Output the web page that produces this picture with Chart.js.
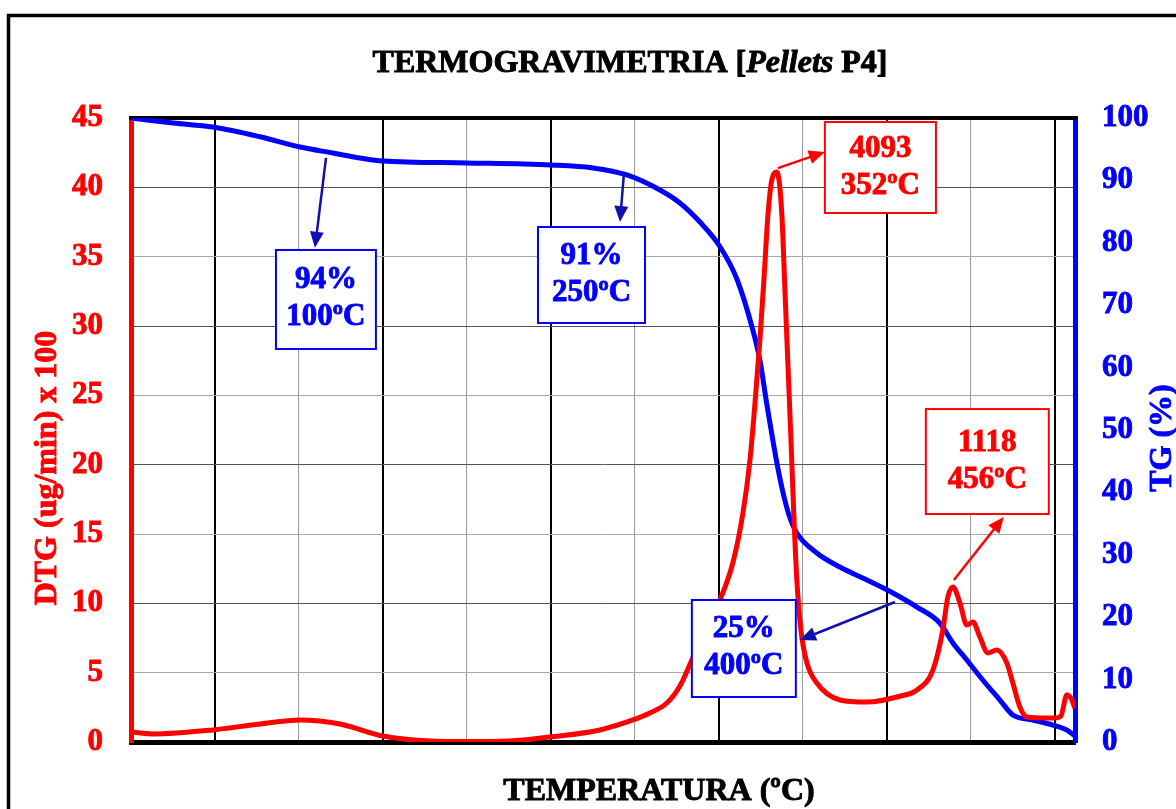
<!DOCTYPE html>
<html>
<head>
<meta charset="utf-8">
<script src="https://cdn.jsdelivr.net/npm/chart.js@4.4.1/dist/chart.umd.min.js"></script>
<style>
  html, body { margin: 0; padding: 0; background: #fff; }
  #wrap { width: 1176px; height: 809px; }
</style>
</head>
<body>
<div id="wrap"><canvas id="chart"></canvas></div>
<script>
// DTG (ug/min x 100), left axis
const dtgX = [0, 13.1, 48.8, 76.8, 100.6, 124.4, 150, 178, 200, 225.6, 249.4, 279.2, 298.8, 308.9, 319, 326.8, 333.9,
  350.6, 358.3, 364.3, 368.5, 371.4, 374.4, 376.8, 379.2, 381.5, 384.5, 387.5, 389.3, 391.1, 392.9, 394.6,
  396.4, 398.8, 402.4, 408.3, 422, 438.1, 457.7, 467.9, 477.4, 483.3, 486.3, 489.3, 493.5, 497.6, 501.2, 505.4,
  510.1, 515.5, 521.4, 525, 529.2, 533.3, 545.2, 550, 553.6, 557.1, 559.5, 561.9]
const dtgY = [0.72, 0.58, 0.87, 1.30, 1.59, 1.30, 0.43, 0.07, 0.03, 0.07, 0.36, 0.87, 1.59, 2.09, 2.81, 4.04, 5.91,
  10.24, 12.91, 16.51, 20.34, 24.30, 28.99, 33.32, 38.00, 40.53, 41.10, 38.0, 32.6, 27.2, 21.8, 16.4,
  11.7, 8.1, 5.70, 4.25, 3.03, 2.88, 3.30, 3.75, 5.19, 8.08, 10.46, 11.18, 10.02, 8.44, 8.65, 7.57,
  6.42, 6.63, 5.70, 4.25, 2.52, 1.80, 1.73, 1.73, 1.87, 3.39, 3.17, 2.45]

// TG (%), right axis
const tgX = [0, 25, 48.8, 76.8, 100.6, 120.2, 136.3, 150, 200, 250, 275, 295.2, 314.9, 326.8, 338.7,
  350.0, 360.7, 370.2, 374.4, 378.6, 382.1, 385.1, 388.1, 391.7, 396.4, 408.3, 422, 438.1, 453.6, 467.9,
  481.5, 489.3, 497.6, 507.1, 517.3, 525, 536.9, 548.8, 557.1, 561.9]
const tgY = [100, 99.2, 98.56, 97.0, 95.35, 94.39, 93.6, 93.11, 92.8, 92.47, 92.0, 90.87, 88.46, 86.38, 83.33,
  79.65, 74.20, 66.03, 61.22, 54.01, 48.40, 43.91, 40.06, 36.38, 33.49, 30.29, 28.04, 25.96, 23.88, 21.63,
  19.07, 15.87, 13.14, 9.94, 6.73, 4.33, 3.53, 2.72, 1.92, 1.0]

const xGridTicks = [50, 100, 150, 200, 250, 300, 350, 400, 450, 500, 550]
const xMax = 562

// callouts: text, box corners and arrow (tail -> tip) in data units
const callouts = [
  { lines: ['94%', '100ºC'], axis: 'y2', color: '#0000ff', arrow: '#1010b0',
    box: [86.3, 145.8, 78.85, 62.98], tail: [116.1, 93.6], tip: [109.5, 79.2] },
  { lines: ['91%', '250ºC'], axis: 'y2', color: '#0000ff', arrow: '#1010b0',
    box: [242.3, 306.0, 82.53, 67.15], tail: [293.5, 91.19], tip: [291.1, 83.33] },
  { lines: ['4093', '352ºC'], axis: 'y', color: '#ff0000', arrow: '#ff0000',
    box: [413.1, 479.2, 44.71, 38.15], tail: [385.1, 41.39], tip: [413.1, 42.55] },
  { lines: ['1118', '456ºC'], axis: 'y', color: '#ff0000', arrow: '#ff0000',
    box: [473.2, 546.4, 24.01, 16.44], tail: [489.9, 11.68], tip: [519.6, 16.23] },
  { lines: ['25%', '400ºC'], axis: 'y2', color: '#0000ff', arrow: '#1010b0',
    box: [333.9, 395.8, 22.76, 7.21], tail: [454.8, 22.44], tip: [398.2, 16.35] }
]

const FONT = "'Liberation Serif', 'Times New Roman', serif"

function toPoints(xs, ys) {
  return xs.map((x, i) => ({ x: x, y: ys[i] }))
}

// heavy text: fill plus a thin stroke in the same colour
function boldText(ctx, txt, x, y) {
  ctx.lineWidth = 0.9
  ctx.strokeStyle = ctx.fillStyle
  ctx.fillText(txt, x, y)
  ctx.strokeText(txt, x, y)
}

function drawArrow(ctx, x1, y1, x2, y2, color) {
  let ang = Math.atan2(y2 - y1, x2 - x1)
  let len = 16, half = 7
  ctx.save()
  ctx.strokeStyle = color
  ctx.fillStyle = color
  ctx.lineWidth = 2.5
  ctx.beginPath()
  ctx.moveTo(x1, y1)
  ctx.lineTo(x2 - Math.cos(ang) * len * 0.8, y2 - Math.sin(ang) * len * 0.8)
  ctx.stroke()
  ctx.beginPath()
  ctx.moveTo(x2, y2)
  ctx.lineTo(x2 - Math.cos(ang) * len - Math.sin(ang) * half, y2 - Math.sin(ang) * len + Math.cos(ang) * half)
  ctx.lineTo(x2 - Math.cos(ang) * len + Math.sin(ang) * half, y2 - Math.sin(ang) * len - Math.cos(ang) * half)
  ctx.closePath()
  ctx.fill()
  ctx.restore()
}

const decor = {
  id: 'decor',
  beforeDraw(chart) {
    let ctx = chart.ctx
    ctx.save()
    ctx.fillStyle = '#fff'
    ctx.fillRect(0, 0, chart.width, chart.height)
    ctx.strokeStyle = '#000'
    ctx.lineWidth = 3.5
    ctx.strokeRect(8.5, 15.5, chart.width + 50, chart.height + 50)
    ctx.restore()
  },
  beforeDatasetsDraw(chart) {
    let ctx = chart.ctx, a = chart.chartArea
    ctx.save()
    ctx.strokeStyle = '#000'
    ctx.lineWidth = 4
    ctx.beginPath()
    ctx.moveTo(a.left - 2, a.top)
    ctx.lineTo(a.right + 2, a.top)
    ctx.stroke()
    ctx.restore()
  },
  afterDatasetsDraw(chart) {
    let ctx = chart.ctx
    let sx = chart.scales.x
    callouts.forEach((c) => {
      let sy = chart.scales[c.axis]
      let x1 = sx.getPixelForValue(c.box[0]), x2 = sx.getPixelForValue(c.box[1])
      let y1 = sy.getPixelForValue(c.box[2]), y2 = sy.getPixelForValue(c.box[3])
      ctx.save()
      ctx.fillStyle = '#fff'
      ctx.fillRect(x1, y1, x2 - x1, y2 - y1)
      ctx.strokeStyle = c.color
      ctx.lineWidth = 2
      ctx.strokeRect(x1, y1, x2 - x1, y2 - y1)
      ctx.fillStyle = c.color
      ctx.font = 'bold 31px ' + FONT
      ctx.textAlign = 'center'
      ctx.textBaseline = 'alphabetic'
      let cx = (x1 + x2) / 2, cy = (y1 + y2) / 2
      boldText(ctx, c.lines[0], cx, cy - 11)
      boldText(ctx, c.lines[1], cx, cy + 26)
      ctx.restore()
      drawArrow(ctx, sx.getPixelForValue(c.tail[0]), sy.getPixelForValue(c.tail[1]),
        sx.getPixelForValue(c.tip[0]), sy.getPixelForValue(c.tip[1]), c.arrow)
    })

    // title with italic part
    ctx.save()
    ctx.fillStyle = '#000'
    ctx.textBaseline = 'alphabetic'
    ctx.textAlign = 'left'
    let parts = [['TERMOGRAVIMETRIA [', 'bold'], ['Pellets', 'italic bold'], [' P4]', 'bold']]
    let total = 0
    parts.forEach((p) => { ctx.font = p[1] + ' 32px ' + FONT; total += ctx.measureText(p[0]).width })
    let tx = 630 - total / 2
    parts.forEach((p) => {
      ctx.font = p[1] + ' 32px ' + FONT
      boldText(ctx, p[0], tx, 72)
      tx += ctx.measureText(p[0]).width
    })

    // axis titles
    ctx.font = 'bold 32px ' + FONT
    ctx.textAlign = 'center'
    boldText(ctx, 'TEMPERATURA (ºC)', 659, 800)

    ctx.fillStyle = '#ff0000'
    ctx.translate(56, 468)
    ctx.rotate(-Math.PI / 2)
    boldText(ctx, 'DTG (ug/min) x 100', 0, 0)
    ctx.restore()

    ctx.save()
    ctx.fillStyle = '#0000ff'
    ctx.font = 'bold 32px ' + FONT
    ctx.textAlign = 'center'
    ctx.translate(1171, 438)
    ctx.rotate(-Math.PI / 2)
    boldText(ctx, 'TG (%)', 0, 0)
    ctx.restore()
  }
}

new Chart(document.getElementById('chart'), {
  type: 'line',
  data: {
    datasets: [
      {
        label: 'DTG',
        data: toPoints(dtgX, dtgY),
        yAxisID: 'y',
        borderColor: '#ff0000',
        borderWidth: 5,
        pointRadius: 0,
        fill: false,
        cubicInterpolationMode: 'monotone'
      },
      {
        label: 'TG',
        data: toPoints(tgX, tgY),
        yAxisID: 'y2',
        borderColor: '#0000ff',
        borderWidth: 5,
        pointRadius: 0,
        fill: false,
        cubicInterpolationMode: 'monotone'
      }
    ]
  },
  options: {
    responsive: true,
    maintainAspectRatio: false,
    animation: false,
    layout: { padding: { top: 118, left: 0, right: 0, bottom: 0 } },
    plugins: {
      legend: { display: false },
      title: { display: false },
      tooltip: { enabled: false }
    },
    scales: {
      x: {
        type: 'linear',
        min: 0,
        max: xMax,
        afterBuildTicks: (s) => { s.ticks = xGridTicks.map((v) => ({ value: v })) },
        afterFit: (s) => { s.height = 67 },
        ticks: { display: false },
        grid: {
          drawTicks: false,
          color: (ctx) => (ctx.tick && ctx.tick.value % 100 === 50) ? '#000' : '#999',
          lineWidth: (ctx) => (ctx.tick && ctx.tick.value % 100 === 50) ? 2 : 1
        },
        border: { color: '#000', width: 5 }
      },
      y: {
        position: 'left',
        min: 0,
        max: 45,
        afterFit: (s) => { s.width = 131 },
        ticks: {
          stepSize: 5,
          color: '#ff0000',
          padding: 28,
          textStrokeColor: '#ff0000',
          textStrokeWidth: 0.9,
          font: { family: FONT, size: 31, weight: 'bold' }
        },
        grid: {
          drawTicks: false,
          color: (ctx) => {
            let v = ctx.tick ? ctx.tick.value : 0
            if (v === 0 || v === 45) return 'rgba(0,0,0,0)'
            return v % 10 === 0 ? '#555' : '#aaa'
          },
          lineWidth: 1
        },
        border: { color: '#ff0000', width: 5 }
      },
      y2: {
        position: 'right',
        min: 0,
        max: 100,
        afterFit: (s) => { s.width = 101 },
        ticks: {
          stepSize: 10,
          color: '#0000ff',
          padding: 27,
          textStrokeColor: '#0000ff',
          textStrokeWidth: 0.9,
          font: { family: FONT, size: 31, weight: 'bold' }
        },
        grid: { drawOnChartArea: false, drawTicks: false },
        border: { color: '#0000ff', width: 5 }
      }
    }
  },
  plugins: [decor]
})
</script>
</body>
</html>
